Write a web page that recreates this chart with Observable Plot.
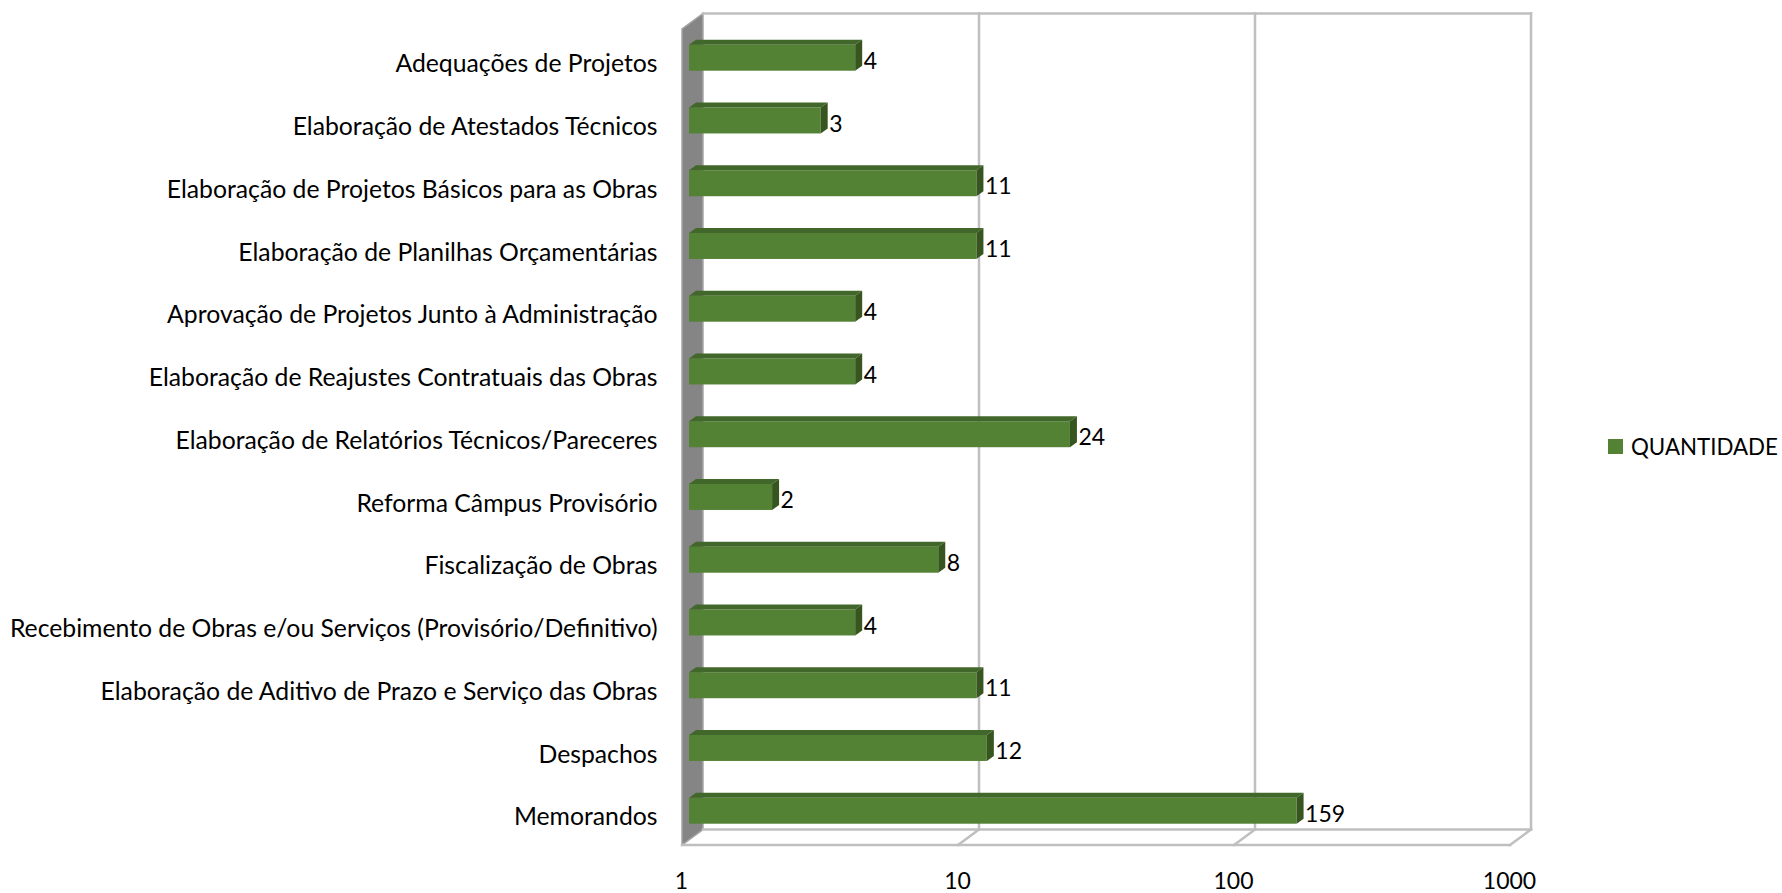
<!DOCTYPE html>
<html>
<head>
<meta charset="utf-8">
<script src="https://cdn.jsdelivr.net/npm/d3@7"></script>
<script src="https://cdn.jsdelivr.net/npm/@observablehq/plot@0.6"></script>
<style>
  html, body { margin: 0; padding: 0; background: #fff; }
  #wrap { position: relative; width: 1782px; height: 893px; font-family: Lato, "Open Sans", sans-serif; }
  #legend { position: absolute; left: 1608px; top: 433px; display: flex; align-items: center; font-size: 22.3px; color: #000; }
  #legend .sw { width: 15px; height: 15px; background: #548235; margin-right: 8px; }
</style>
</head>
<body>
<div id="wrap">
  <div id="chart"></div>
  <div id="legend"><span class="sw"></span><span id="legend-label"></span></div>
</div>
<script>
const categories = [
  "Adequações de Projetos",
  "Elaboração de Atestados Técnicos",
  "Elaboração de Projetos Básicos para as Obras",
  "Elaboração de Planilhas Orçamentárias",
  "Aprovação de Projetos Junto à Administração",
  "Elaboração de Reajustes Contratuais das Obras",
  "Elaboração de Relatórios Técnicos/Pareceres",
  "Reforma Câmpus Provisório",
  "Fiscalização de Obras",
  "Recebimento de Obras e/ou Serviços (Provisório/Definitivo)",
  "Elaboração de Aditivo de Prazo e Serviço das Obras",
  "Despachos",
  "Memorandos"
];
const values = [4, 3, 11, 11, 4, 4, 24, 2, 8, 4, 11, 12, 159];
const xTicks = [1, 10, 100, 1000];
const seriesName = "QUANTIDADE";

const data = categories.map((c, i) => ({cat: c, value: values[i]}));
document.getElementById("legend-label").textContent = seriesName;

// 3D geometry (pixel offsets relative to the bar front plane)
const BACK = {dx: 14, dy: -10.5};
const FRONT = {dx: -7, dy: 5};
const DEPTH = {dx: 7, dy: -5};
const GRID = "#bfbfbf";
const FRONT_FILL = "#548235", TOP_FILL = "#42672a", SIDE_FILL = "#37561f";

const svgNS = "http://www.w3.org/2000/svg";
function el(name, attrs) {
  const e = document.createElementNS(svgNS, name);
  for (const k in attrs) e.setAttribute(k, attrs[k]);
  return e;
}
function bw(y) { return typeof y.bandwidth === "function" ? y.bandwidth() : y.bandwidth; }

// Walls, floor and gridlines
function walls(index, scales, values, dims) {
  const x = scales.x;
  const top = dims.marginTop, bottom = dims.height - dims.marginBottom;
  const g = el("g", {});
  const x1 = x(xTicks[0]), xN = x(xTicks[xTicks.length - 1]);
  const bT = top + BACK.dy, bB = bottom + BACK.dy, fT = top + FRONT.dy, fB = bottom + FRONT.dy;
  // left wall
  g.appendChild(el("polygon", {
    points: `${x1 + BACK.dx},${bT} ${x1 + BACK.dx},${bB} ${x1 + FRONT.dx},${fB} ${x1 + FRONT.dx},${fT}`,
    fill: "#858585", stroke: "#a6a6a6", "stroke-width": 1.5
  }));
  const line = (a, b, c, d) => g.appendChild(el("line", {x1: a, y1: b, x2: c, y2: d, stroke: GRID, "stroke-width": 2.5, "stroke-linecap": "square"}));
  // back top edge
  line(x1 + BACK.dx, bT, xN + BACK.dx, bT);
  // vertical gridlines on back wall
  for (const t of xTicks.slice(1)) line(x(t) + BACK.dx, bT, x(t) + BACK.dx, bB);
  // floor
  line(x1 + BACK.dx, bB, xN + BACK.dx, bB);
  line(x1 + FRONT.dx, fB, xN + FRONT.dx, fB);
  for (const t of xTicks.slice(1)) line(x(t) + BACK.dx, bB, x(t) + FRONT.dx, fB);
  return g;
}

// Top and side faces of each bar
function barFaces(index, scales) {
  const x = scales.x, y = scales.y, h = bw(y);
  const g = el("g", {});
  for (const d of data) {
    const xa = x(1), xb = x(d.value), t = y(d.cat), b = t + h;
    g.appendChild(el("polygon", {
      points: `${xa},${t} ${xb},${t} ${xb + DEPTH.dx},${t + DEPTH.dy} ${xa + DEPTH.dx},${t + DEPTH.dy}`,
      fill: TOP_FILL
    }));
    g.appendChild(el("polygon", {
      points: `${xb},${t} ${xb + DEPTH.dx},${t + DEPTH.dy} ${xb + DEPTH.dx},${b + DEPTH.dy} ${xb},${b}`,
      fill: SIDE_FILL
    }));
  }
  return g;
}

const chart = Plot.plot({
  width: 1782,
  height: 893,
  marginLeft: 689,
  marginRight: 265,
  marginTop: 24,
  marginBottom: 53,
  style: {fontFamily: "Lato, 'Open Sans', sans-serif", fontSize: "23px", color: "#000", background: "transparent"},
  x: {type: "log", domain: [1, 1000], axis: null, label: null},
  y: {domain: categories, paddingInner: 0.586, paddingOuter: 0.295, align: 0.56, round: false, axis: null, label: null},
  marks: [
    walls,
    Plot.barX(data, {x1: () => 1, x2: "value", y: "cat", fill: FRONT_FILL}),
    barFaces,
    Plot.text(data, {x: "value", y: "cat", text: d => String(d.value), textAnchor: "start", dx: 8, dy: 3.2, fill: "#000", fontSize: 23}),
    Plot.axisY({tickSize: 0, tickPadding: 32, dy: 6.2, fontSize: 24.75, fill: "#000", label: null}),
    Plot.axisX({ticks: xTicks, tickFormat: d => String(d), tickSize: 0, tickPadding: 32, dx: -8, fontSize: 23, fill: "#000", label: null})
  ]
});
document.getElementById("chart").appendChild(chart);
</script>
</body>
</html>
